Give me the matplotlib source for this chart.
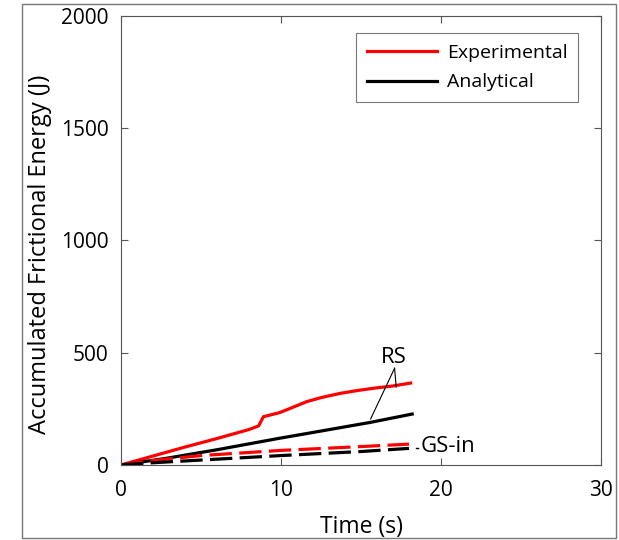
import matplotlib
matplotlib.use('Agg')
import matplotlib.pyplot as plt
from matplotlib.patches import Rectangle

plt.rcParams['font.family'] = ['Open Sans', 'DejaVu Sans']

# RS experimental (red solid)
t_exp_rs = [0, 2, 4, 6, 8, 8.6, 8.9, 9.9, 10.5, 11.6, 12.5, 13.7, 14.8, 15.8, 17, 18.1]
e_exp_rs = [0, 40, 80, 118, 158, 174, 215, 233, 250, 282, 300, 319, 332, 342, 352, 365]
# RS analytical (black solid)
t_ana_rs = [0, 2.85, 6, 9.9, 12, 15.6, 18.2]
e_ana_rs = [0, 30, 68, 119, 145, 190, 227]
# GS-in experimental (red dashed)
t_exp_gs = [0, 2, 5, 10, 15, 18]
e_exp_gs = [0, 20, 42, 65, 82, 93]
# GS-in analytical (black dashed)
t_ana_gs = [0, 2, 5, 10, 15, 18]
e_ana_gs = [0, 10, 22, 42, 60, 74]

fig = plt.figure(figsize=(6.19, 5.4), dpi=100)
ax = fig.add_axes([0.1955, 0.1389, 0.7754, 0.8315])

ax.plot(t_exp_rs, e_exp_rs, color='#ff0000', lw=2.3, label='Experimental')
ax.plot(t_ana_rs, e_ana_rs, color='black', lw=2.3, label='Analytical')
ax.plot(t_exp_gs, e_exp_gs, color='#ff0000', lw=2.3, ls=(0, (7, 2.3)))
ax.plot(t_ana_gs, e_ana_gs, color='black', lw=2.3, ls=(0, (7, 2.3)))

# annotations
ax.text(17.05, 477, 'RS', fontsize=16, ha='center', va='center')
ax.plot([17.1, 17.2], [431, 347], color='black', lw=0.8)
ax.plot([17.1, 15.6], [431, 205], color='black', lw=0.8)
ax.plot([18.45, 18.55], [76, 76], color='black', lw=1)
ax.text(18.7, 82, 'GS-in', fontsize=16, ha='left', va='center')

ax.set_xlim(0, 30)
ax.set_ylim(0, 2000)
ax.set_xticks([0, 10, 20, 30])
ax.set_yticks([0, 500, 1000, 1500, 2000])
ax.tick_params(direction='in', length=5, width=0.8, color='#555555',
               labelsize=15, top=True, right=True, pad=9)
ax.tick_params(axis='x', pad=11)
for s in ax.spines.values():
    s.set_color('#555555')
    s.set_linewidth(0.8)

ax.set_xlabel('Time (s)', fontsize=16.5, labelpad=10)
ax.set_ylabel('Accumulated Frictional Energy (J)', fontsize=17)
ax.yaxis.set_label_coords(-0.143, 0.468)

leg = ax.legend(loc='upper right', bbox_to_anchor=(0.952, 0.962), borderaxespad=0,
                fontsize=14, frameon=True, fancybox=False,
                handlelength=3.6, handletextpad=0.5,
                borderpad=0.55, labelspacing=0.6)
leg.get_frame().set_edgecolor('#555555')
leg.get_frame().set_linewidth(0.8)

fig.patches.append(Rectangle((0.0355, 0.0037), 0.9596, 0.989, transform=fig.transFigure,
                             fill=False, edgecolor='#777777', lw=1))

fig.savefig('out.png', dpi=100)
